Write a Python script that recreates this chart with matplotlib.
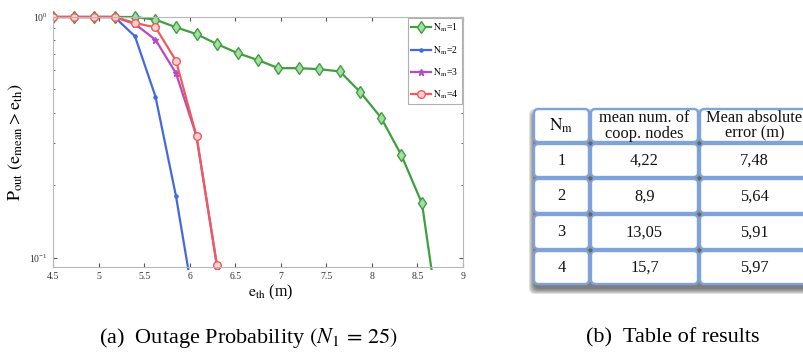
import matplotlib
matplotlib.use('Agg')
import matplotlib.pyplot as plt
from matplotlib.patches import FancyBboxPatch
from matplotlib.transforms import Bbox, TransformedBbox
import numpy as np

plt.rcParams['font.family'] = ['Liberation Serif', 'DejaVu Serif']
plt.rcParams['mathtext.fontset'] = 'stix'

# outage probability curves, one per N_m
e_th = [4.5, 4.725, 4.95, 5.175, 5.4, 5.625, 5.85, 6.075, 6.3, 6.525, 6.75,
        6.975, 7.2, 7.425, 7.65, 7.875, 8.1, 8.325, 8.55, 8.775]
p_nm1 = [1.0, 1.0, 1.0, 1.0, 1.0, 0.975, 0.906, 0.849, 0.772, 0.708, 0.662,
         0.613, 0.613, 0.607, 0.594, 0.486, 0.382, 0.266, 0.168, 0.043]
p_nm2 = [1.0, 1.0, 1.0, 1.0, 0.831, 0.467, 0.180, 0.056]
p_nm3 = [1.0, 1.0, 1.0, 1.0, 0.935, 0.804, 0.584, 0.320, 0.092]
p_nm4 = [1.0, 1.0, 1.0, 1.0, 0.944, 0.906, 0.658, 0.320, 0.093]

# table of results
nm_values = ['1', '2', '3', '4']
coop_nodes = ['4,22', '8,9', '13,05', '15,7']
mean_abs_err = ['7,48', '5,64', '5,91', '5,97']
table_header = [r'$\mathrm{N_m}$', 'mean num. of\ncoop. nodes', 'Mean absolute\nerror (m)']

fig = plt.figure(figsize=(8.04, 3.52), dpi=100)
ax = fig.add_axes([53 / 804, 85 / 352, 410 / 804, 250 / 352])

styles = [
    (p_nm1, '#3f9f3f', 'd', '#a6dba6', 6.5, 1),
    (p_nm2, '#4468e0', '.', '#4468e0', 4.5, 2),
    (p_nm3, '#b64ac4', '*', '#b64ac4', 4.5, 3),
    (p_nm4, '#f05a5a', 'o', '#fbd0d0', 5.5, 4),
]
# clip box reaching a bit above the top so markers at 1 are drawn whole
clip = TransformedBbox(Bbox.from_extents(0, -0.01, 1, 1.05), ax.transAxes)
for vals, col, mk, face, ms, n in styles:
    ln, = ax.plot(e_th[:len(vals)], vals, color=col, marker=mk, markerfacecolor=face,
                  markeredgecolor=col, markersize=ms, linewidth=1.6,
                  label=r'$\mathrm{N_m}$=%d' % n)
    ln.set_clip_box(clip)

ax.set_yscale('log')
ax.set_xlim(4.5, 9)
ax.set_ylim(0.0915, 1.0)
ax.set_xticks(np.arange(4.5, 9.01, 0.5))
ax.set_xticklabels(['4.5', '5', '5.5', '6', '6.5', '7', '7.5', '8', '8.5', '9'])
ax.tick_params(which='both', direction='in', top=True, right=True,
               labelsize=7, colors='#555555', labelcolor='#333333')
ax.tick_params(which='major', length=3)
ax.tick_params(which='minor', length=1.5)
ax.tick_params(axis='y', which='minor', labelleft=False)
for sp in ax.spines.values():
    sp.set_color('#b8b8b8')

ax.set_ylabel(r'$\mathrm{P_{out}\ (e_{mean} > e_{th})}$', fontsize=13)
ax.yaxis.set_label_coords(-0.068, 0.5)
ax.set_xlabel(r'$\mathrm{e_{th}}$ (m)', fontsize=11.5)
ax.xaxis.set_label_coords(0.53, -0.065)

leg = ax.legend(loc='upper right', fontsize=7, labelspacing=1.0, handlelength=2.0,
                handletextpad=0.2, borderpad=0.35, borderaxespad=0.15,
                fancybox=False, framealpha=1)
leg.get_frame().set_edgecolor('#b0b0b0')
leg.get_frame().set_linewidth(0.8)

# overlay axes in pixel units for the table and captions
ov = fig.add_axes([0, 0, 1, 1])
ov.set_xlim(0, 804)
ov.set_ylim(352, 0)
ov.axis('off')

col_edges = [533, 590, 699, 810]
row_edges = [108, 143, 178, 214, 250, 285]

# soft shadow under the table
for k in range(6):
    grow = 5 - k
    sh = FancyBboxPatch((col_edges[0] - grow + 1, row_edges[0] + 6 - grow),
                        col_edges[-1] - col_edges[0] + 2 * grow,
                        row_edges[-1] - row_edges[0] + 2 * grow - 2,
                        boxstyle='round,pad=0,rounding_size=6',
                        facecolor='#353535', edgecolor='none', alpha=0.15, zorder=1)
    ov.add_patch(sh)

rows = [table_header] + [[a, b, c] for a, b, c in zip(nm_values, coop_nodes, mean_abs_err)]
for r, row in enumerate(rows):
    y0, y1 = row_edges[r], row_edges[r + 1]
    for c, txt in enumerate(row):
        x0, x1 = col_edges[c], col_edges[c + 1]
        cell = FancyBboxPatch((x0 + 1, y0 + 1), x1 - x0 - 2, y1 - y0 - 2,
                              boxstyle='round,pad=0,rounding_size=4.5',
                              facecolor='white', edgecolor='#7ea3db', linewidth=1.7,
                              zorder=2)
        ov.add_patch(cell)
        fs = 12.5 if (r == 0 and c == 0) else 11.8
        ov.text((x0 + x1) / 2, (y0 + y1) / 2 + 0.5, txt, ha='center', va='center',
                fontsize=fs, linespacing=0.95, color='#111111', zorder=3)

# small dots where inner cell borders meet
for xe in col_edges[1:-1]:
    for ye in row_edges[1:-1]:
        ov.plot(xe, ye, 'o', color='#666666', markersize=1.8, zorder=4)

ov.text(248, 338, r'(a)  Outage Probability $(N_1\,=\,25)$', ha='center', va='center',
        fontsize=16)
ov.text(673, 338, '(b)  Table of results', ha='center', va='center', fontsize=16)

fig.savefig('out.png', dpi=100)
